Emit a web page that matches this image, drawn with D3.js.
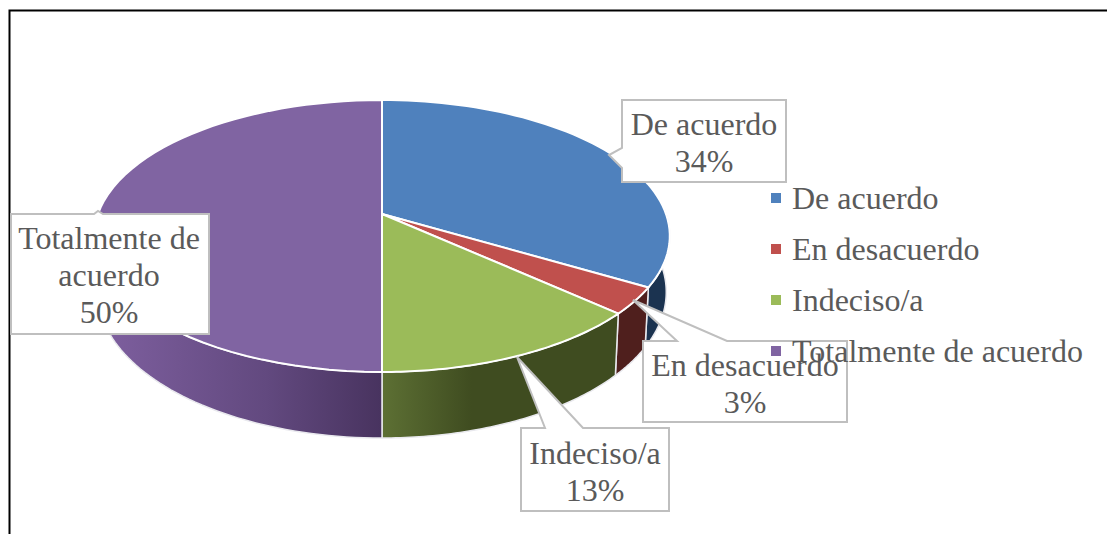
<!DOCTYPE html>
<html><head><meta charset="utf-8">
<style>html,body{margin:0;padding:0;background:#fff;overflow:hidden}svg{display:block}text{font-family:"Liberation Serif",serif;fill:#595959;opacity:.99}</style>
<script src="https://cdn.jsdelivr.net/npm/d3@7"></script>
</head><body>
<svg id="c" width="1107" height="534"></svg>
<script>
const categories = ["De acuerdo","En desacuerdo","Indeciso/a","Totalmente de acuerdo"];
const values = [33.5,3.2,13.3,50];
const topColors = ["#4f81bd","#c0504d","#9bbb59","#8064a2"];
const wallStops = [
  [["#1b3350",1],["#1b3350",1]],
  [["#4f1f1d",1],["#4f1f1d",1]],
  [["#5d7034",0],["#3f4c20",.38],["#3f4c20",1]],
  [["#7f60a0",0],["#62497f",.6],["#48335f",1]]
];
const labelLines = [["De acuerdo"],["En desacuerdo"],["Indeciso/a"],["Totalmente de","acuerdo"]];

const svg = d3.select("#c");
const k = -0.1618;
const topPlane = {x:382,y:214,b:284,a:132.4};
const botPlane = {x:382,y:268.4,b:280.5,a:142.2};
const proj = (p,t)=>{const X=Math.sin(t),Y=-Math.cos(t),d=1+k*Y;return [p.x+p.b*X/d,p.y+p.a*Y/d];};
const arcs = d3.pie().sort(null).value(d=>d)(values);
const line = d3.line();
const samples = (a,b)=>d3.range(0,61).map(i=>a+(b-a)*i/60);

// frame: left and top edges only
svg.append("path").attr("d","M9.5,534V10.5H1107").attr("fill","none").attr("stroke","#000").attr("stroke-width",2);

// side walls
const defs = svg.append("defs");
const rad = Math.PI/180;
const wallRange = [[88*rad,arcs[0].endAngle],[arcs[1].startAngle,arcs[1].endAngle],[arcs[2].startAngle,arcs[2].endAngle],[arcs[3].startAngle,272*rad]];
wallRange.forEach((r,i)=>{
  const ts = samples(r[0],r[1]);
  const top = ts.map(t=>proj(topPlane,t)), bot = ts.map(t=>proj(botPlane,t));
  const xs = top.concat(bot).map(p=>p[0]);
  const g = defs.append("linearGradient").attr("id","w"+i).attr("gradientUnits","userSpaceOnUse")
    .attr("x1",d3.min(xs)).attr("x2",d3.max(xs)).attr("y1",0).attr("y2",0);
  wallStops[i].forEach(s=>g.append("stop").attr("offset",s[1]).attr("stop-color",s[0]));
  svg.append("path").attr("d",line(top.concat(bot.reverse()))+"Z")
    .attr("fill",`url(#w${i})`).attr("stroke","#e9e9ee").attr("stroke-width",1.5).attr("stroke-linejoin","round");
});

// top face
arcs.forEach((a,i)=>{
  const pts=[[topPlane.x,topPlane.y]].concat(samples(a.startAngle,a.endAngle).map(t=>proj(topPlane,t)));
  svg.append("path").attr("d",line(pts)+"Z").attr("fill",topColors[i]).attr("stroke","#fff").attr("stroke-width",2).attr("stroke-linejoin","round");
});

// callouts
const boxes = [[622,100,786,182],[643,341,847,422],[521,428,669,511],[11,214,209,334]];
const tips = [[[622,148],[609,155],[622,168]],[[677,341],[633,300],[727,341]],[[545,428],[517,357],[583,428]],[[94,214],[98,211],[103,214]]];
const anchor = [[704,135],[745,376],[595,464],[109,249]];
const lh = 37;
arcs.forEach((a,i)=>{
  const [x0,y0,x1,y1]=boxes[i], t=tips[i];
  const g=svg.append("g");
  let d;
  if(i===0) d=`M${x0},${y0}H${x1}V${y1}H${x0}V${t[2][1]}L${t[1]}L${t[0]}Z`;
  else d=`M${x0},${y0}H${t[0][0]}L${t[1]}L${t[2]}H${x1}V${y1}H${x0}Z`;
  g.append("path").attr("d",d).attr("fill","#fff").attr("stroke","#bfbfbf").attr("stroke-width",2);
  const ls=labelLines[i].concat([Math.round(values[i])+"%"]);
  ls.forEach((s,j)=>g.append("text").attr("x",anchor[i][0]).attr("y",anchor[i][1]+j*lh).attr("text-anchor","middle").attr("font-size",32).text(s));
});

// legend
const ly = d3.scalePoint().domain(categories).range([209,362]);
categories.forEach((c,i)=>{
  svg.append("rect").attr("x",771).attr("y",ly(c)-16).attr("width",10).attr("height",10).attr("fill",topColors[i]);
  svg.append("text").attr("x",792).attr("y",ly(c)).attr("font-size",32).text(c);
});
</script>
</body></html>
